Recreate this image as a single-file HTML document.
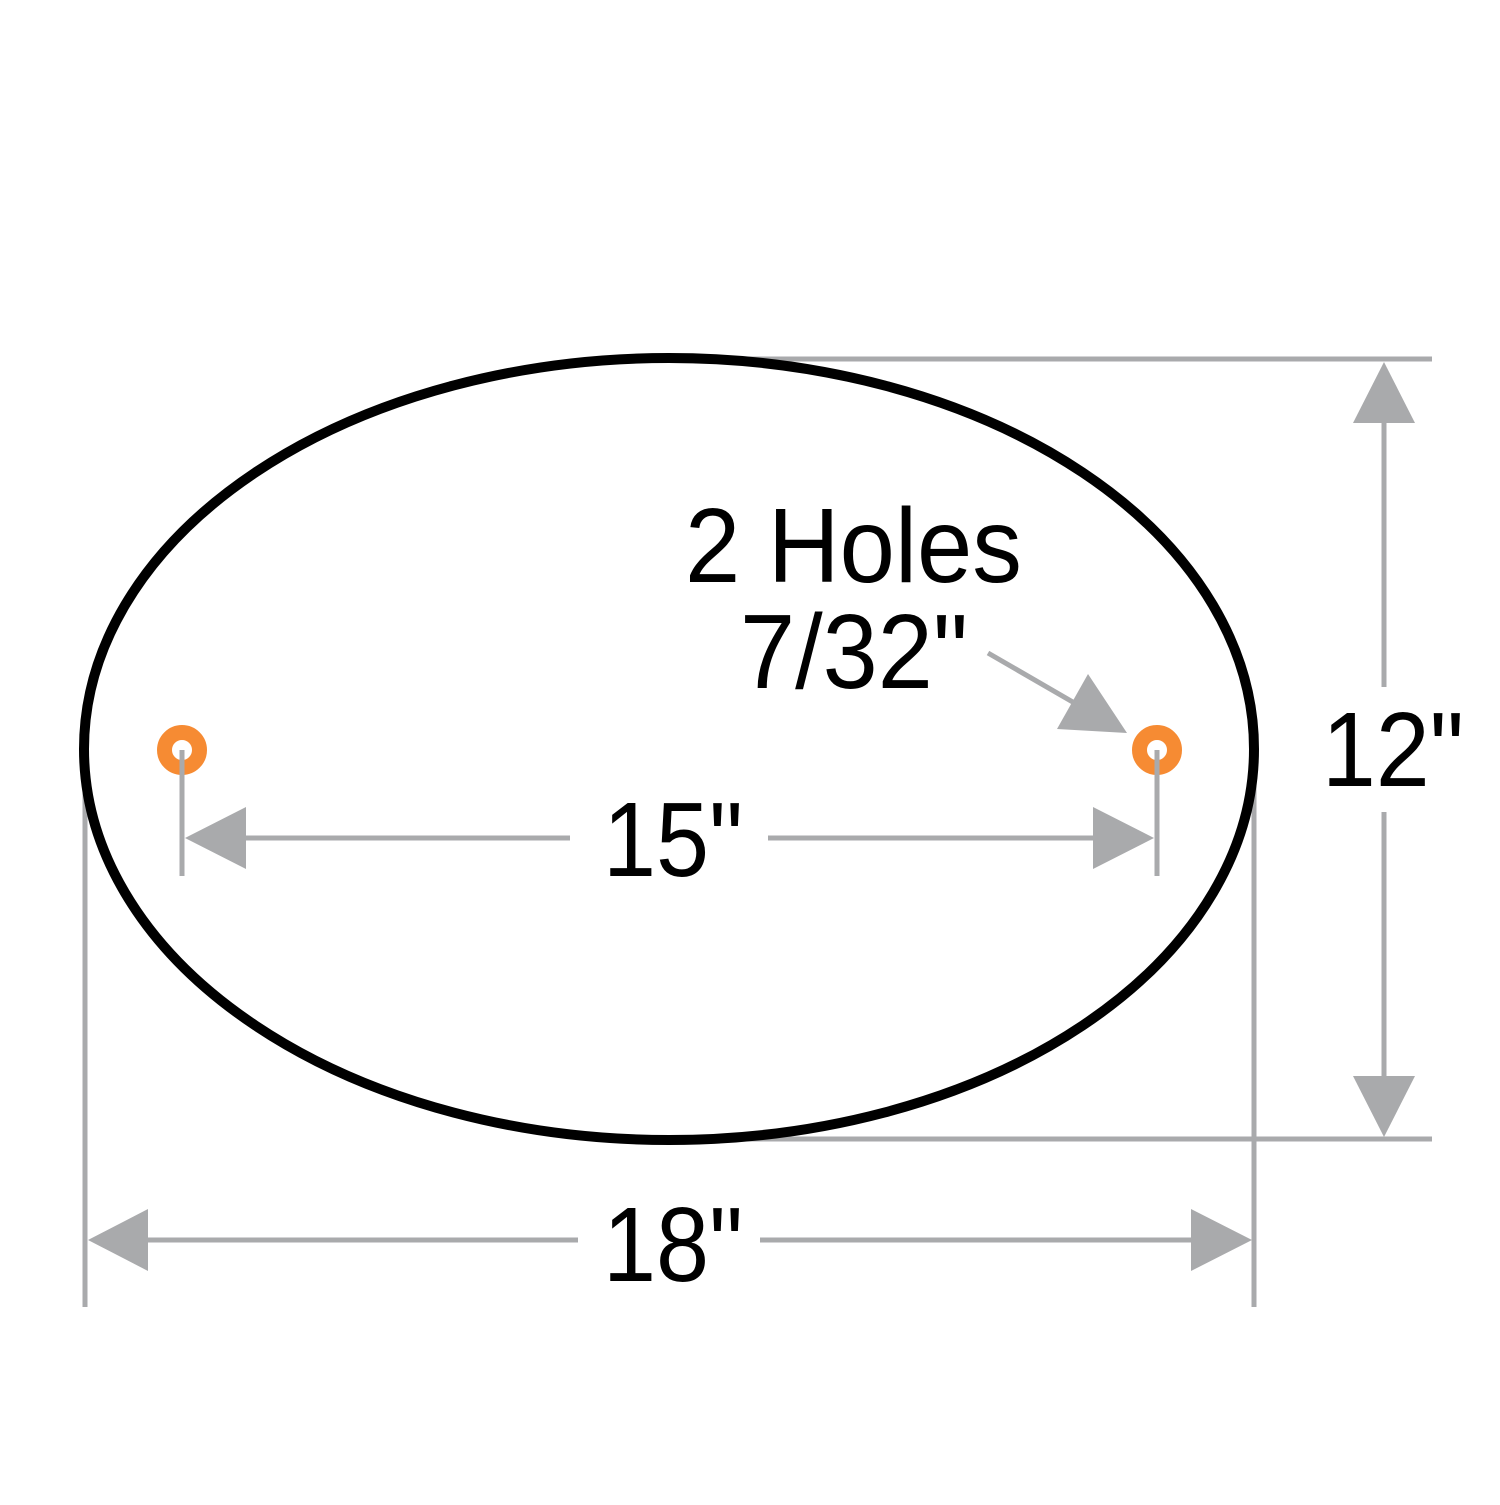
<!DOCTYPE html>
<html><head><style>html,body{margin:0;padding:0;background:#fff}</style></head>
<body>
<svg width="1500" height="1500" viewBox="0 0 1500 1500" xmlns="http://www.w3.org/2000/svg">
<g stroke="#a9aaac" stroke-width="5" fill="none">
<line x1="669" y1="359" x2="1432" y2="359"/>
<line x1="669" y1="1139" x2="1432" y2="1139"/>
<line x1="85" y1="760" x2="85" y2="1307"/>
<line x1="1254" y1="760" x2="1254" y2="1307"/>
<line x1="1384" y1="400" x2="1384" y2="687"/>
<line x1="1384" y1="812" x2="1384" y2="1100"/>
<line x1="140" y1="1240" x2="578" y2="1240"/>
<line x1="760" y1="1240" x2="1200" y2="1240"/>
<line x1="240" y1="838" x2="570" y2="838"/>
<line x1="768" y1="838" x2="1100" y2="838"/>
<line x1="988" y1="653" x2="1090" y2="712"/>
</g>
<g fill="#a9aaac">
<polygon points="1384,362 1353,423 1415,423"/>
<polygon points="1384,1137 1353,1076 1415,1076"/>
<polygon points="88,1240 148,1209 148,1271"/>
<polygon points="1252,1240 1191,1209 1191,1271"/>
<polygon points="185,838 246,807 246,869"/>
<polygon points="1154,838 1093,807 1093,869"/>
<polygon points="1088,674 1057,729 1127,733"/>
</g>
<ellipse cx="669" cy="749" rx="585" ry="391" fill="none" stroke="#000" stroke-width="10"/>
<circle cx="182" cy="750" r="17.5" fill="none" stroke="#f68b33" stroke-width="15"/>
<circle cx="1157" cy="750" r="17.5" fill="none" stroke="#f68b33" stroke-width="15"/>
<line x1="182" y1="750" x2="182" y2="876" stroke="#a9aaac" stroke-width="5"/>
<line x1="1157" y1="750" x2="1157" y2="876" stroke="#a9aaac" stroke-width="5"/>
<g font-family="Liberation Sans, Arial, sans-serif" font-size="106" fill="#000">
<text x="685" y="582" textLength="337" lengthAdjust="spacingAndGlyphs">2 Holes</text>
<text x="740" y="688" textLength="228" lengthAdjust="spacingAndGlyphs">7/32"</text>
<text x="603" y="876" textLength="140" lengthAdjust="spacingAndGlyphs">15"</text>
<text x="603" y="1281" textLength="140" lengthAdjust="spacingAndGlyphs">18"</text>
<text x="1322" y="786" textLength="142" lengthAdjust="spacingAndGlyphs">12"</text>
</g>
</svg>
</body></html>
